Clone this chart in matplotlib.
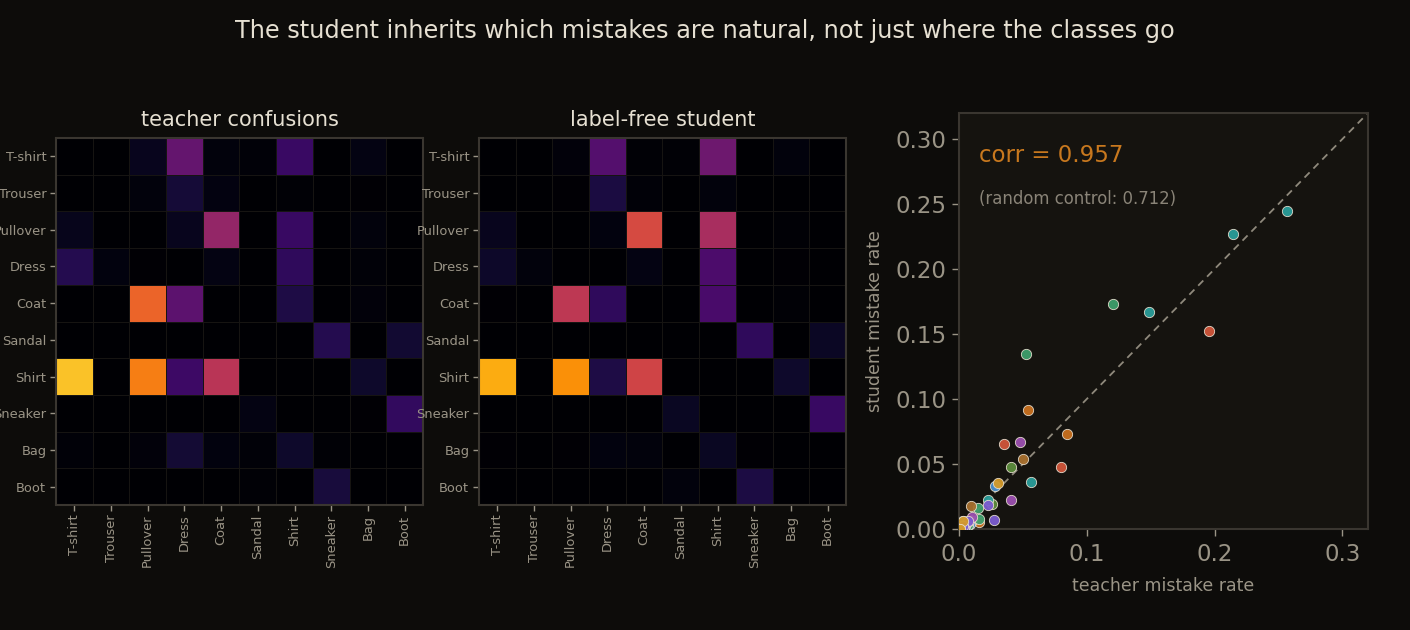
import numpy as np
import matplotlib
matplotlib.use("Agg")
import matplotlib.pyplot as plt

classes = ["T-shirt", "Trouser", "Pullover", "Dress", "Coat",
           "Sandal", "Shirt", "Sneaker", "Bag", "Boot"]

# teacher confusion rates (rows = true class, cols = predicted), diagonal removed
teacher = np.array([
    [0.000, 0.001, 0.0157, 0.0847, 0.006, 0.004, 0.0544, 0.001, 0.010, 0.000],
    [0.001, 0.000, 0.006, 0.0286, 0.009, 0.000, 0.003, 0.000, 0.002, 0.000],
    [0.0148, 0.000, 0.000, 0.0157, 0.1207, 0.000, 0.0528, 0.000, 0.007, 0.000],
    [0.0404, 0.008, 0.002, 0.000, 0.0102, 0.000, 0.0476, 0.000, 0.004, 0.000],
    [0.001, 0.000, 0.1958, 0.0795, 0.000, 0.000, 0.0355, 0.000, 0.005, 0.000],
    [0.000, 0.000, 0.000, 0.000, 0.000, 0.000, 0.001, 0.0404, 0.001, 0.0261],
    [0.2568, 0.001, 0.2147, 0.0566, 0.1488, 0.000, 0.000, 0.000, 0.0225, 0.000],
    [0.000, 0.000, 0.000, 0.000, 0.000, 0.0096, 0.001, 0.000, 0.002, 0.0503],
    [0.004, 0.001, 0.005, 0.0275, 0.0074, 0.004, 0.0228, 0.003, 0.000, 0.001],
    [0.000, 0.000, 0.000, 0.000, 0.000, 0.003, 0.000, 0.0308, 0.001, 0.000],
])

# label-free student confusion rates
student = np.array([
    [0.000, 0.000, 0.0056, 0.0731, 0.003, 0.003, 0.0918, 0.000, 0.006, 0.001],
    [0.001, 0.000, 0.002, 0.0331, 0.004, 0.000, 0.006, 0.000, 0.001, 0.000],
    [0.0162, 0.000, 0.000, 0.0079, 0.1731, 0.000, 0.1349, 0.000, 0.003, 0.000],
    [0.0221, 0.006, 0.001, 0.000, 0.0095, 0.000, 0.0669, 0.000, 0.002, 0.000],
    [0.002, 0.000, 0.1521, 0.0479, 0.000, 0.000, 0.0651, 0.000, 0.003, 0.000],
    [0.000, 0.000, 0.000, 0.000, 0.000, 0.000, 0.000, 0.0479, 0.000, 0.0190],
    [0.2449, 0.000, 0.2269, 0.0359, 0.1669, 0.000, 0.000, 0.000, 0.0226, 0.001],
    [0.000, 0.000, 0.000, 0.000, 0.000, 0.0179, 0.000, 0.000, 0.001, 0.0538],
    [0.002, 0.000, 0.002, 0.0072, 0.0064, 0.001, 0.0182, 0.002, 0.000, 0.000],
    [0.000, 0.000, 0.000, 0.000, 0.000, 0.006, 0.000, 0.0351, 0.000, 0.000],
])

class_colors = ["#c8701e", "#4a8fd0", "#3e9e6c", "#9c50b0", "#d0553a",
                "#5b8c3c", "#2a9d9a", "#a8702e", "#7c5cd0", "#d49a2a"]

corr_text = "corr = 0.957"
control_text = "(random control: 0.712)"
title = "The student inherits which mistakes are natural, not just where the classes go"

FIG_BG = "#0d0c0a"
AX_BG = "#15130f"
SPINE = "#3a3630"
TXT = "#e6e0d2"
SUB = "#9a9486"

fig = plt.figure(figsize=(14.1, 6.3), dpi=100, facecolor=FIG_BG)
fig.suptitle(title, color=TXT, fontsize=17.3, y=0.951, va="center")

vmax = 0.3
for k, (mat, name) in enumerate([(teacher, "teacher confusions"),
                                  (student, "label-free student")]):
    ax = fig.add_axes([0.0397 + k * 0.3, 0.1984, 0.2603, 0.5825])
    ax.set_facecolor("#000004")
    ax.pcolormesh(np.arange(11) - 0.5, np.arange(11) - 0.5, mat,
                  cmap="inferno", vmin=0, vmax=vmax,
                  edgecolors="#161412", linewidth=0.6)
    ax.set_xlim(-0.5, 9.5)
    ax.set_ylim(9.5, -0.5)
    ax.set_xticks(range(10))
    ax.set_yticks(range(10))
    ax.set_xticklabels(classes, rotation=90)
    ax.set_yticklabels(classes)
    ax.tick_params(colors=SUB, labelsize=9.4, length=4, width=1, pad=3)
    for s in ax.spines.values():
        s.set_color(SPINE)
        s.set_linewidth(1.5)
    ax.set_title(name, color=TXT, fontsize=15, pad=9)

ax = fig.add_axes([0.6801, 0.1603, 0.2901, 0.6603])
ax.set_facecolor(AX_BG)
ax.plot([0, 0.32], [0, 0.32], ls=(0, (4, 3)), color="#8f897c", lw=1.3, zorder=1)
mask = ~np.eye(10, dtype=bool)
for i in range(10):
    xs = teacher[i][mask[i]]
    ys = student[i][mask[i]]
    ax.scatter(xs, ys, s=55, color=class_colors[i], edgecolor="#e8e0d0",
               linewidth=0.6, alpha=0.95, zorder=3)
ax.set_xlim(0, 0.32)
ax.set_ylim(0, 0.32)
ax.set_xticks([0.0, 0.1, 0.2, 0.3])
ax.set_yticks([0.0, 0.05, 0.10, 0.15, 0.20, 0.25, 0.30])
ax.set_xticklabels(["0.0", "0.1", "0.2", "0.3"])
ax.set_yticklabels(["0.00", "0.05", "0.10", "0.15", "0.20", "0.25", "0.30"])
ax.tick_params(colors=SUB, labelsize=16.5, length=5, width=1, pad=4)
ax.tick_params(axis="x", pad=5)
for s in ax.spines.values():
    s.set_color(SPINE)
    s.set_linewidth(1.5)
ax.set_xlabel("teacher mistake rate", color=SUB, fontsize=12.5, labelpad=8)
ax.set_ylabel("student mistake rate", color=SUB, fontsize=12.5, labelpad=8)
ax.text(0.05, 0.899, corr_text, transform=ax.transAxes, color="#c8781e",
        fontsize=16.5, va="center")
ax.text(0.05, 0.793, control_text, transform=ax.transAxes, color="#8a8478",
        fontsize=11.9, va="center")

fig.savefig("out.png", dpi=100, facecolor=FIG_BG)
